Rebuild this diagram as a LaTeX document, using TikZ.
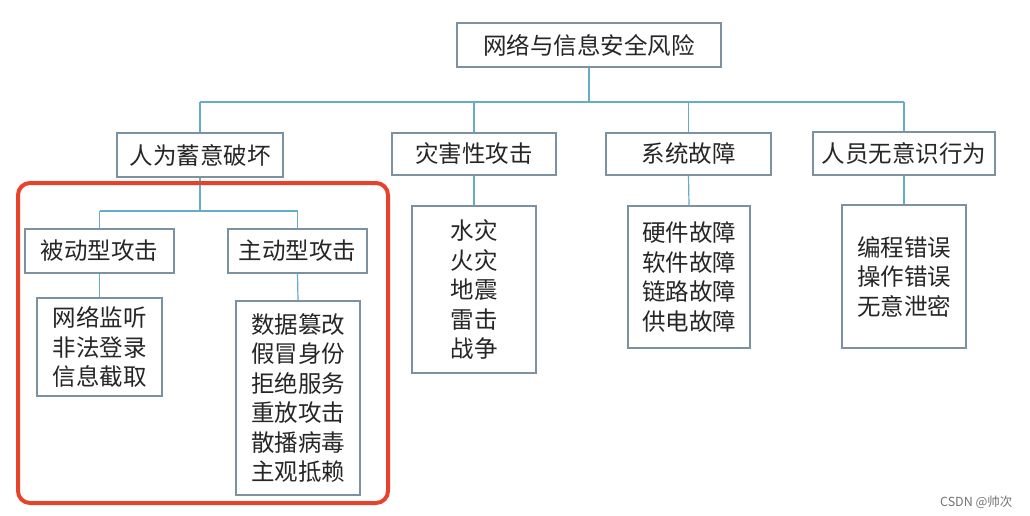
\documentclass[tikz,border=0pt]{standalone}
\usepackage{fontspec}
\newfontfamily\cjk{Noto Sans CJK SC}
\definecolor{boxc}{RGB}{125,145,160}
\definecolor{connc}{RGB}{100,172,200}
\definecolor{framec}{RGB}{232,66,44}
\begin{document}
\begin{tikzpicture}[x=1pt,y=-1pt,
  box/.style={draw=boxc,line width=1.2pt,rectangle,inner sep=0pt,align=center,
    font=\cjk\fontsize{23.5}{29.5}\selectfont,text=black!85},
  conn/.style={draw=connc,line width=1.2pt},
  redframe/.style={draw=framec,line width=4pt,rounded corners=12pt,rectangle,inner sep=0pt}]
\useasboundingbox (0,0) rectangle (1030,516);
\fill[white] (0,0) rectangle (1030,516);
% level 0
\node[box,minimum width=264pt,minimum height=44pt] (root) at (589,45) {网络与信息安全风险};
% level 1
\node[box,minimum width=166pt,minimum height=44pt] (a) at (200,155) {人为蓄意破坏};
\node[box,minimum width=164pt,minimum height=42pt] (b) at (474,154) {灾害性攻击};
\node[box,minimum width=165pt,minimum height=42pt] (c) at (688.5,154) {系统故障};
\node[box,minimum width=182pt,minimum height=43pt] (d) at (904,153.5) {人员无意识行为};
% level 2 under a
\node[box,minimum width=149pt,minimum height=44pt] (a1) at (99.5,251) {被动型攻击};
\node[box,minimum width=139pt,minimum height=44pt] (a2) at (297.5,251) {主动型攻击};
% leaves
\node[box,minimum width=125pt,minimum height=98pt] (a1l) at (99.5,347) {网络监听\\非法登录\\信息截取};
\node[box,minimum width=124pt,minimum height=194pt] (a2l) at (298,398) {数据篡改\\假冒身份\\拒绝服务\\重放攻击\\散播病毒\\主观抵赖};
\node[box,minimum width=124pt,minimum height=167pt] (bl) at (474,289.5) {水灾\\火灾\\地震\\雷击\\战争};
\node[box,minimum width=122pt,minimum height=142pt] (cl) at (689,277) {硬件故障\\软件故障\\链路故障\\供电故障};
\node[box,minimum width=124pt,minimum height=143pt] (dl) at (904,276.5) {编程错误\\操作错误\\无意泄密};
% connectors
\coordinate (busL) at (200,102);
\coordinate (busR) at (904,102);
\draw[conn] (busL) -- (busR);
\draw[conn] (root.south) -- (root.south |- busL);
\foreach \n in {a,b,c,d} \draw[conn] (\n.north) -- (\n.north |- busL);
\coordinate (bus2L) at (99.5,211);
\coordinate (bus2R) at (297.5,211);
\draw[conn] (bus2L) -- (bus2R);
\draw[conn] (a.south) -- (a.south |- bus2L);
\draw[conn] (a1.north) -- (a1.north |- bus2L);
\draw[conn] (a2.north) -- (a2.north |- bus2L);
\draw[conn] (a1.south) -- (a1l.north);
\draw[conn] (a2.south) -- (a2l.north);
\draw[conn] (b.south) -- (bl.north);
\draw[conn] (c.south) -- (cl.north);
\draw[conn] (d.south) -- (dl.north);
% highlight frame
\node[redframe,minimum width=370pt,minimum height=320pt] (hl) at (203,343) {};
% watermark
\node[font=\cjk\fontsize{12.5}{14}\selectfont,text=black!55,anchor=east] (wm) at (1016,502) {CSDN @帅次};
\end{tikzpicture}
\end{document}
